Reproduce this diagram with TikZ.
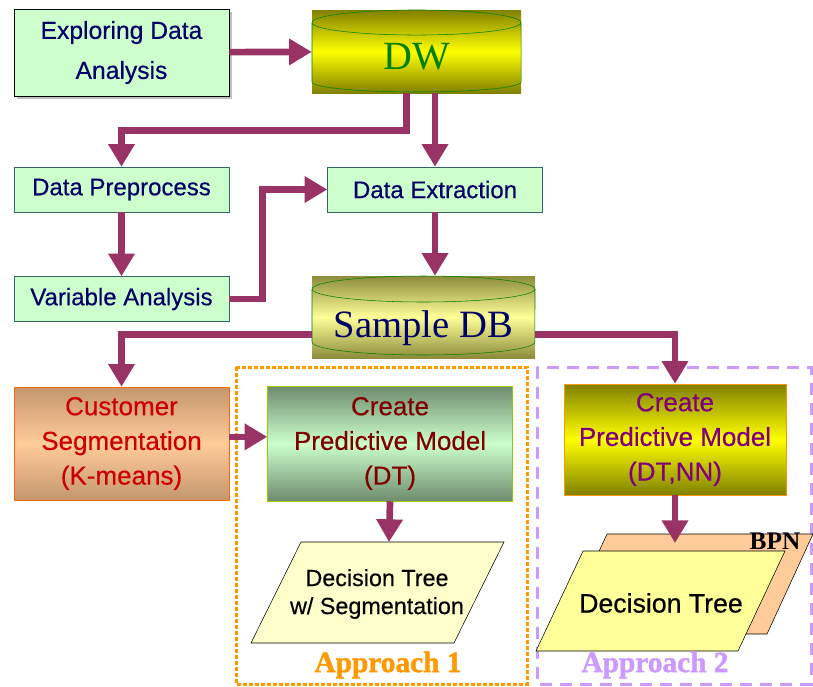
\documentclass[tikz,border=0pt]{standalone}
\usepackage{fontspec}
\setmainfont{Liberation Serif}
\setsansfont{Liberation Sans}[FakeBold=0.4]
\newfontfamily\appfont{Liberation Serif Bold}[FakeBold=1.5]
\usepackage{tikz}
\usetikzlibrary{positioning,arrows.meta,shadows}

\definecolor{flowred}{RGB}{153,51,102}
\definecolor{boxgreen}{RGB}{204,255,204}
\definecolor{boxline}{RGB}{51,102,102}
\definecolor{navy}{RGB}{0,0,102}
\definecolor{dwgreen}{RGB}{0,128,0}
\definecolor{dwolive}{RGB}{128,128,0}
\definecolor{dwyellow}{RGB}{255,255,0}
\definecolor{sdbolive}{RGB}{140,140,60}
\definecolor{sdbyellow}{RGB}{255,255,153}
\definecolor{custtan}{RGB}{196,150,110}
\definecolor{custpeach}{RGB}{255,204,153}
\definecolor{custline}{RGB}{255,102,0}
\definecolor{custred}{RGB}{204,0,0}
\definecolor{dtgrey}{RGB}{110,140,110}
\definecolor{dtline}{RGB}{153,204,0}
\definecolor{dtred}{RGB}{128,0,0}
\definecolor{nnline}{RGB}{255,153,0}
\definecolor{nnpurple}{RGB}{128,0,128}
\definecolor{paryellow}{RGB}{255,255,204}
\definecolor{paryellowb}{RGB}{255,255,153}
\definecolor{bpnorange}{RGB}{255,204,153}
\definecolor{appone}{RGB}{255,153,0}
\definecolor{apptwo}{RGB}{204,153,255}

\begin{document}
\begin{tikzpicture}[x=0.75pt,y=-0.75pt,
    greenbox/.style={rectangle, draw=boxline, fill=boxgreen, thin, text=navy, align=center,
        font=\sffamily\fontsize{18}{22}\selectfont, minimum width=161.25pt, minimum height=33.75pt},
    dbbox/.style={rectangle, inner sep=0pt, text depth=0pt},
    cylline/.style={draw=dwgreen, thin},
    modelbox/.style={rectangle, thin, align=center, inner sep=0pt,
        font=\sffamily\fontsize{19.5}{26}\selectfont},
    flow/.style={-{Triangle[length=17pt,width=19pt]}, line width=5pt, draw=flowred},
    parshape/.style={draw=black, thin},
    applabel/.style={font=\appfont\fontsize{22}{24}\selectfont}]

    \useasboundingbox (0,0) rectangle (813,686);

    % approach frames
    \draw[appone, line width=2.25pt, dash pattern=on 3pt off 1.5pt] (236,367) rectangle (527,684);
    \draw[apptwo, line width=2.25pt, dash pattern=on 9pt off 6pt] (537,367) rectangle (811,684);

    % top part
    \node[greenbox, draw=black, drop shadow={shadow xshift=2pt, shadow yshift=-2pt, fill=gray},
        minimum width=161.25pt, minimum height=65pt,
        font=\sffamily\fontsize{18.5}{30}\selectfont] (explore) at (121.5,52.5) {Exploring Data\\Analysis};
    \node[dbbox, top color=dwolive, bottom color=dwolive, middle color=dwyellow,
        minimum width=156.75pt, minimum height=62.25pt, text=dwgreen, text height=27pt,
        font=\fontsize{30}{34}\selectfont] (dw) at (416.5,51.5) {DW};
    \draw[cylline] (416.5,22.5) ellipse [x radius=78.4pt, y radius=9.4pt];
    \draw[cylline] (312,22.5) -- (312,82) arc[start angle=180, end angle=360, x radius=78.4pt, y radius=7.5pt] -- (521,22.5);

    \node[greenbox] (prep) at (121.5,189.5) {Data Preprocess};
    \node[greenbox, right=73.5pt of prep] (extract) {Data Extraction};
    \node[greenbox, below=48pt of prep] (varan) {Variable Analysis};

    \node[dbbox, top color=sdbolive, bottom color=sdbolive, middle color=sdbyellow,
        minimum width=167.25pt, minimum height=61.5pt, text=navy, text height=31pt,
        font=\fontsize{29}{32}\selectfont] (sample) at (423.5,317) {Sample DB};
    \draw[cylline] (423.5,289) ellipse [x radius=83.6pt, y radius=9.75pt];
    \draw[cylline] (312,289) -- (312,342) arc[start angle=180, end angle=360, x radius=83.6pt, y radius=9.75pt] -- (535,289);

    % models
    \node[modelbox, draw=custline, top color=custtan, bottom color=custtan, middle color=custpeach,
        text=custred, minimum width=161.25pt, minimum height=84.75pt] (custseg) at (121.5,443.5)
        {Customer\\Segmentation\\(K-means)};
    \node[modelbox, draw=dtline, top color=dtgrey, bottom color=dtgrey, middle color=boxgreen,
        text=dtred, minimum width=183.75pt, minimum height=86.25pt, right=28.5pt of custseg] (dtmodel)
        {Create\\Predictive Model\\(DT)};
    \node[modelbox, draw=nnline, top color=dwolive, bottom color=dwolive, middle color=dwyellow,
        text=nnpurple, minimum width=166.5pt, minimum height=83.25pt] (nnmodel) at (675,439.5)
        {Create\\Predictive Model\\(DT,NN)};

    % outputs
    \filldraw[parshape, fill=paryellow] (301,542) -- (504,542) -- (454,643) -- (251,643) -- cycle;
    \node[align=center, font=\sffamily\fontsize{17.5}{21}\selectfont] (dtseg) at (377,594)
        {Decision Tree\\w/ Segmentation};
    \coordinate (segtop) at (389,542);

    \filldraw[parshape, fill=bpnorange] (607,534) -- (813,534) -- (767,634) -- (561,634) -- cycle;
    \filldraw[parshape, fill=paryellowb] (583,551) -- (785,551) -- (738,651) -- (536,651) -- cycle;
    \node[font=\sffamily\fontsize{20}{24}\selectfont] (dtree) at (661,603) {Decision Tree};
    \node[font=\bfseries\fontsize{19}{22}\selectfont] (bpn) at (775,541) {BPN};
    \coordinate (nntop) at (675,543);

    \node[applabel, text=appone] (app1) at (388,665) {Approach 1};
    \node[applabel, text=apptwo] (app2) at (655,665) {Approach 2};

    % arrows
    \draw[flow] (explore) -- (dw);
    \draw[flow] ([xshift=-7.5pt]dw.south) -- ++(0,37) -| (prep.north);
    \draw[flow] (dw.south -| extract.north) -- (extract.north);
    \draw[flow] (prep) -- (varan);
    \draw[flow] (varan.east) -- ++(33,0) |- (extract.west);
    \draw[flow] (extract.south) -- (extract.south |- sample.north);
    \draw[flow] ([yshift=-13pt]sample.west) -| (custseg.north);
    \draw[flow] ([yshift=-13pt]sample.east) -| (nnmodel.north);
    \draw[flow] ([yshift=5pt]custseg.east) -- ([yshift=5pt]custseg.east -| dtmodel.west);
    \draw[flow] (dtmodel.south) -- (segtop);
    \draw[flow] (nnmodel.south) -- (nntop);

\end{tikzpicture}
\end{document}
